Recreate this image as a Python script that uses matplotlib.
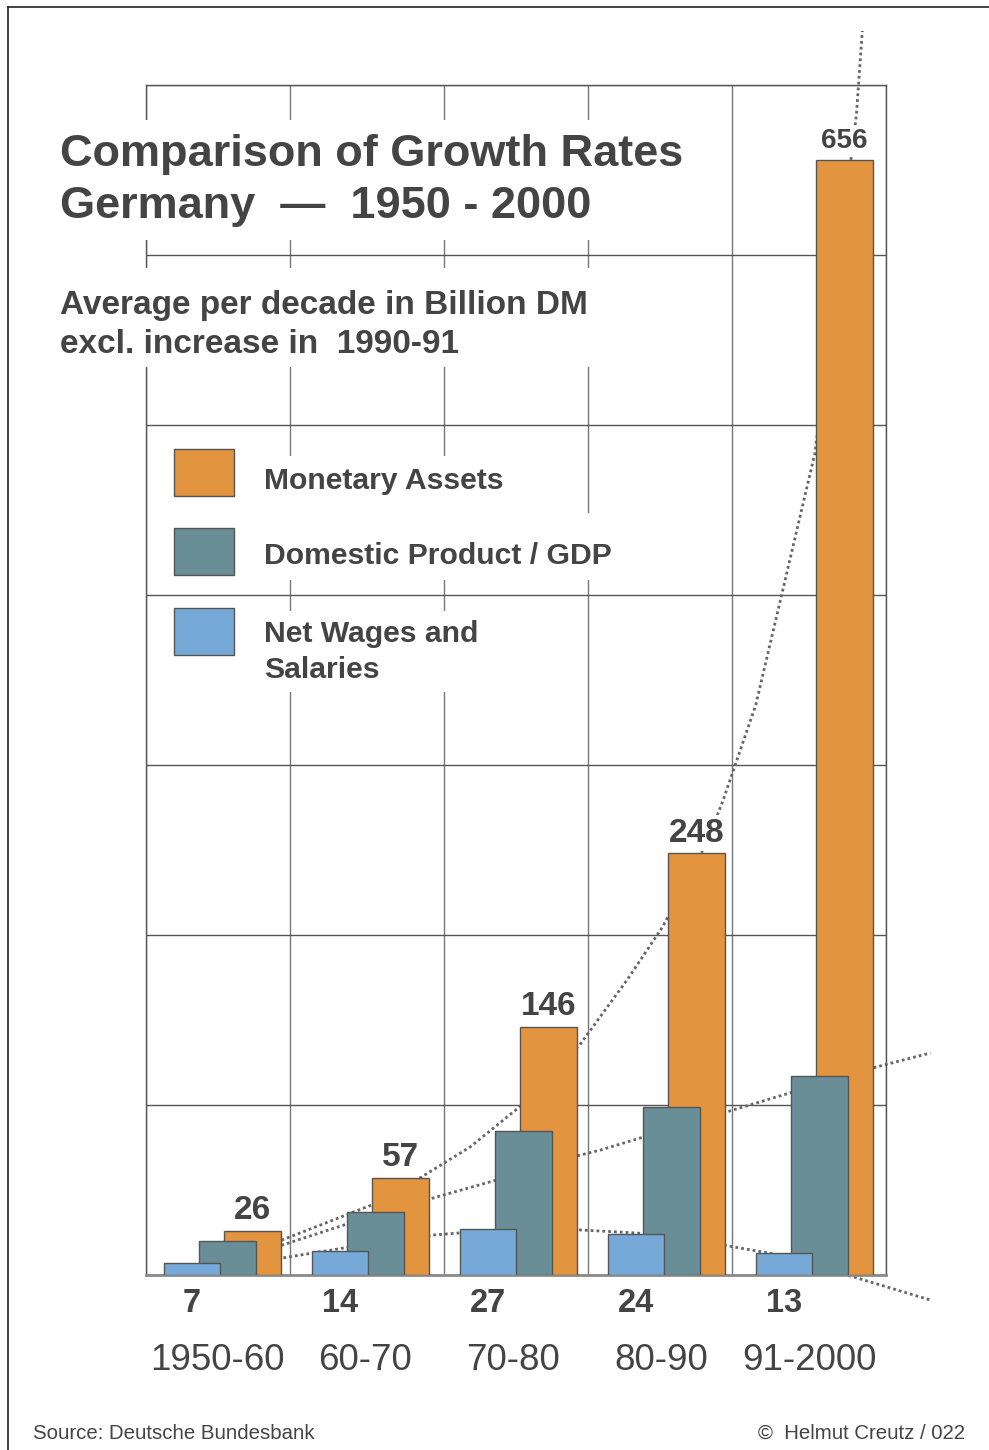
# growth rates of monetary assets vs GDP vs net wages, Germany 1950-2000
# bars per decade plus hand-drawn dotted trend curves

import matplotlib.pyplot as plt
from matplotlib.patches import Rectangle
from matplotlib.lines import Line2D

plt.rcParams['font.family'] = ['Liberation Sans', 'DejaVu Sans']

periods = ['1950-60', '60-70', '70-80', '80-90', '91-2000']
monetary_assets = [26, 57, 146, 248, 656]
gdp = [20, 37, 85, 99, 117]
net_wages = [7, 14, 27, 24, 13]

# dotted trend curves (x = decade column, y = billion DM)
assets_trend_x = [0.73, 0.92, 1.56, 1.86, 2.19, 2.54, 2.93, 3.25, 3.49, 3.79, 3.90, 4.12, 4.52, 4.80, 4.84]
assets_trend_y = [14.7, 20.6, 42.4, 57.6, 75.3, 100.0, 135.3, 173.5, 204.7, 254.7, 279.4, 335.3, 483.5, 682.4, 731.8]
gdp_trend_x = [0.53, 0.92, 1.38, 1.94, 2.37, 2.91, 3.07, 3.90, 4.35, 4.91, 5.30]
gdp_trend_y = [10.0, 17.6, 30.6, 45.3, 55.9, 70.0, 73.5, 95.3, 107.1, 121.8, 130.6]
wages_trend_x = [0.30, 0.92, 1.38, 1.94, 2.11, 2.93, 3.32, 3.90, 4.24, 4.76, 5.30]
wages_trend_y = [5.3, 10.0, 16.5, 23.5, 24.7, 26.5, 24.7, 17.6, 12.4, -0.6, -14.7]

ORANGE = '#E3943F'
TEAL = '#6A8E98'
BLUE = '#76A9D7'
TXT = '#444444'
EDGE = '#555555'

W, H = 989, 1450

# the hand-drawn grid columns are not quite even
column_edges = [0, 0.973, 2.014, 2.986, 3.959, 5]


def fx(px):
    return px / W


def fy(py):
    return 1 - py / H


def white_box(x0, y0, x1, y1):
    # blank patch so the grid is broken behind the text blocks
    fig.add_artist(Rectangle((fx(x0), fy(y1)), (x1 - x0) / W, (y1 - y0) / H, transform=fig.transFigure,
                             facecolor='white', edgecolor='none', zorder=1))


fig = plt.figure(figsize=(W / 100, H / 100), dpi=100)
ax = fig.add_axes([fx(146), fy(1275), (886 - 146) / W, (1275 - 85) / H])

n = len(periods)
xs = list(range(n))
bw = 0.38

ax.bar([x + 0.72 for x in xs], monetary_assets, bw, color=ORANGE, edgecolor=EDGE, linewidth=1, zorder=3)
ax.bar([x + 0.55 for x in xs], gdp, bw, color=TEAL, edgecolor=EDGE, linewidth=1, zorder=4)
ax.bar([x + 0.31 for x in xs], net_wages, bw, color=BLUE, edgecolor=EDGE, linewidth=1, zorder=5)

dots = (0, (1, 1.1))
for tx, ty in [(assets_trend_x, assets_trend_y), (gdp_trend_x, gdp_trend_y), (wages_trend_x, wages_trend_y)]:
    ax.plot(tx, ty, color='#666666', lw=2, linestyle=dots, zorder=2.5, clip_on=False)

# value labels
for i, v in enumerate(monetary_assets):
    fs = 20 if v > 600 else 24
    ax.annotate(str(v), (i + 0.72, v), xytext=(0, 8.5), textcoords='offset points',
                ha='center', va='baseline', fontsize=fs, fontweight='bold', color=TXT, zorder=6,
                bbox=dict(boxstyle='square,pad=0.08', fc='white', ec='none'))
for i, v in enumerate(net_wages):
    ax.annotate(str(v), (i + 0.31, 0), xytext=(0, -9.4), textcoords='offset points',
                ha='center', va='top', fontsize=23.5, fontweight='bold', color=TXT, annotation_clip=False)
for i, p in enumerate(periods):
    ax.annotate(p, (i + 0.48, 0), xytext=(0, -49), textcoords='offset points',
                ha='center', va='top', fontsize=26.5, color=TXT, annotation_clip=False)

ax.set_xlim(0, n)
ax.set_ylim(0, 700)
ax.set_xticks(column_edges)
ax.set_yticks(range(0, 701, 100))
ax.set_xticklabels([])
ax.set_yticklabels([])
ax.tick_params(length=0)
ax.set_axisbelow(True)
ax.grid(axis='x', color='#777777', lw=1)
ax.grid(axis='y', color='#555555', lw=1)
for side in ['left', 'top', 'right']:
    ax.spines[side].set_color('#555555')
    ax.spines[side].set_linewidth(1)
ax.spines['bottom'].set_color('#8a8a8a')
ax.spines['bottom'].set_linewidth(2)

# title and subtitle
white_box(50, 120, 700, 240)
fig.text(fx(60), fy(134), 'Comparison of Growth Rates\nGermany  \u2014  1950 - 2000',
         fontsize=32.5, fontweight='bold', color=TXT, va='top', ha='left', linespacing=1.33)
white_box(50, 268, 610, 367)
fig.text(fx(60), fy(290), 'Average per decade in Billion DM\nexcl. increase in  1990-91',
         fontsize=24, fontweight='bold', color=TXT, va='top', ha='left', linespacing=1.33)

# legend
legend_items = [(ORANGE, 449, 467, 'Monetary Assets'),
                (TEAL, 528, 542, 'Domestic Product / GDP'),
                (BLUE, 608, 620, 'Net Wages and\nSalaries')]
legend_boxes = [(250, 456, 520, 513), (250, 513, 625, 580), (250, 611, 495, 692)]
for (col, top, text_top, label), box in zip(legend_items, legend_boxes):
    fig.add_artist(Rectangle((fx(174), fy(top + 47)), 60 / W, 47 / H, transform=fig.transFigure,
                             facecolor=col, edgecolor=EDGE, linewidth=1))
    white_box(*box)
    fig.text(fx(264), fy(text_top), label, fontsize=21.7, fontweight='bold', color=TXT,
             va='top', ha='left', linespacing=1.38)

fig.text(fx(33), fy(1439), 'Source: Deutsche Bundesbank', fontsize=14.7, color=TXT, va='baseline', ha='left')
fig.text(fx(965), fy(1439), '\u00a9  Helmut Creutz / 022', fontsize=14.7, color=TXT, va='baseline', ha='right')

# outer frame (top and left edges visible)
fig.add_artist(Line2D([fx(8), 1], [fy(7), fy(7)], transform=fig.transFigure, color='#222222', lw=1.2))
fig.add_artist(Line2D([fx(8), fx(8)], [fy(7), 0], transform=fig.transFigure, color='#222222', lw=1.2))

fig.savefig('out.png', dpi=100)
